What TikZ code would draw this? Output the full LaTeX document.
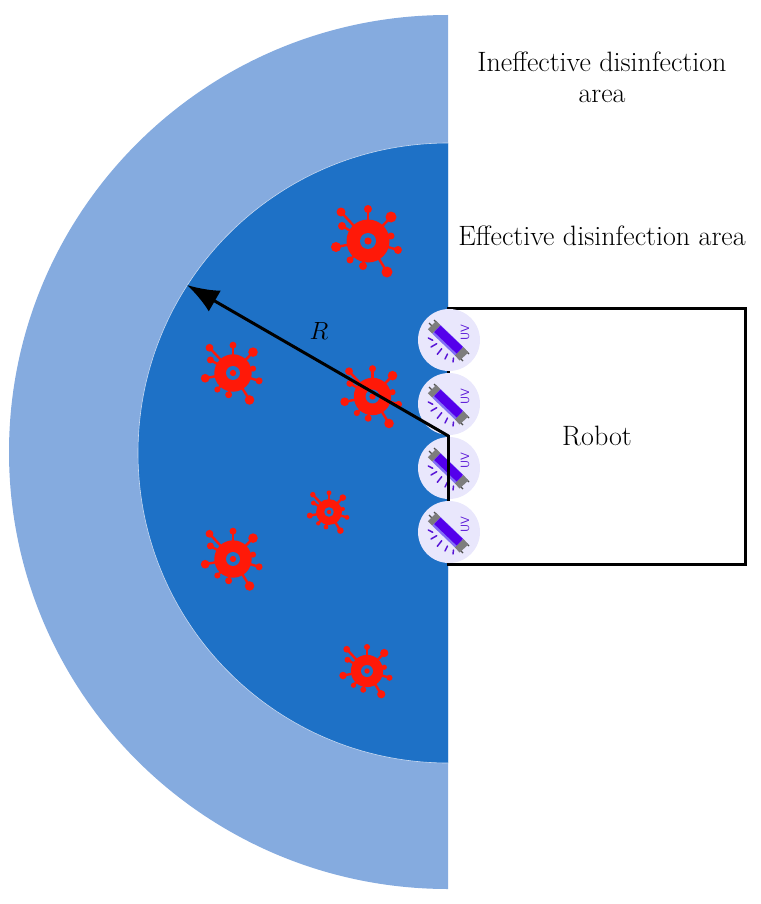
\documentclass[tikz,border=0pt]{standalone}
\usepackage{tikz}
\usetikzlibrary{arrows.meta}
\definecolor{outerblue}{RGB}{133,171,223}
\definecolor{innerblue}{RGB}{30,113,198}
\definecolor{lampbg}{RGB}{233,231,252}
\definecolor{uvpurple}{RGB}{88,20,214}
\definecolor{tubedeep}{RGB}{84,0,235}
\definecolor{tubepale}{RGB}{130,110,245}
\definecolor{capgray}{RGB}{125,125,125}
\definecolor{virusred}{RGB}{255,25,8}
\tikzset{
  label/.style={font=\fontsize{28}{31}\selectfont,align=center},
  virus/.pic={
    \fill [virusred] (0,0) circle (21.5);
    \foreach \a/\b/\r in {0/-32/4,23/-24/5.5,23/-5/3.5,30/9/4,19/31/5.5,-5/25/4,-18/19/3.5,-32/6/5,-26/-15/4,-27/-29/4.5}{
      \draw [virusred,line width=2.4] (0,0)--(\a,\b);
      \fill [virusred] (\a,\b) circle (\r);
    }
    \fill [innerblue] (0,0) circle (8);
    \fill [virusred] (0,0) circle (3.6);
  },
  lamp/.pic={
    \fill [lampbg] (0,0) circle (31);
    \draw [uvpurple,line width=1.5,line cap=round] (-20.7,-2)--(-16.3,0.3) (-18,7)--(-12.3,3.7) (-11.7,14.3)--(-7.3,8.7) (-4,19)--(-1.5,14) (4,22)--(4.5,18);
    \draw [black!70,line width=1.2] (-17,-14)--(-20,-17) (-12,-17)--(-15,-20) (17,11)--(20,14) (11,18)--(14,21);
    \draw [capgray,line width=12] (-17,-15)--(-12.5,-10.5);
    \draw [capgray,line width=12] (10,11)--(15,16.5);
    \draw [tubepale,line width=12] (-12.5,-10.5)--(10,11);
    \draw [tubedeep,line width=9] (-11.7,-11.2)--(10.8,10.3);
    \node [uvpurple,rotate=90,font=\sffamily\fontsize{12}{12}\selectfont] (-uv) at (16,-7.5) {UV};
  }
}
\begin{document}
\begin{tikzpicture}[x=1pt,y=-1pt]
\useasboundingbox (0,0) rectangle (760,904);
% disinfection areas
\fill [outerblue] (448,15) arc (-90:-270:439 and 437) -- cycle;
\fill [innerblue] (448,143) arc (-90:-270:310) -- cycle;
\draw [outerblue!45,line width=0.6] (448,143) arc (-90:-270:310);
% viruses
\pic at (368,241) {virus};
\pic [scale=0.87] at (233,373) {virus};
\pic [scale=0.87] at (372.5,396.5) {virus};
\pic [scale=0.6] at (329,512) {virus};
\pic [scale=0.87] at (233,559) {virus};
\pic [scale=0.75] at (367,671) {virus};
% robot and lamps
\node [draw,line width=3,outer sep=0,minimum width=297,minimum height=256,label] (robot) at (597,436) {Robot};
\foreach \y in {340,404,468,532}
  \pic (lamp\y) at (449,\y) {lamp};
% radius
\coordinate (tip) at (187,285);
\coordinate (foot) at (448.5,499);
\draw [line width=3] (foot)--(robot.west);
\draw [line width=3,-{Latex[length=32,width=24]}] (robot.west)--(tip);
\node [label,font=\fontsize{26}{28}\selectfont] (radius) at (319,331) {$R$};
\node [label] (ineff) at (602,77.5) {Ineffective disinfection\\area};
\node [label] (eff) at (602,236) {Effective disinfection area};
\end{tikzpicture}
\end{document}
